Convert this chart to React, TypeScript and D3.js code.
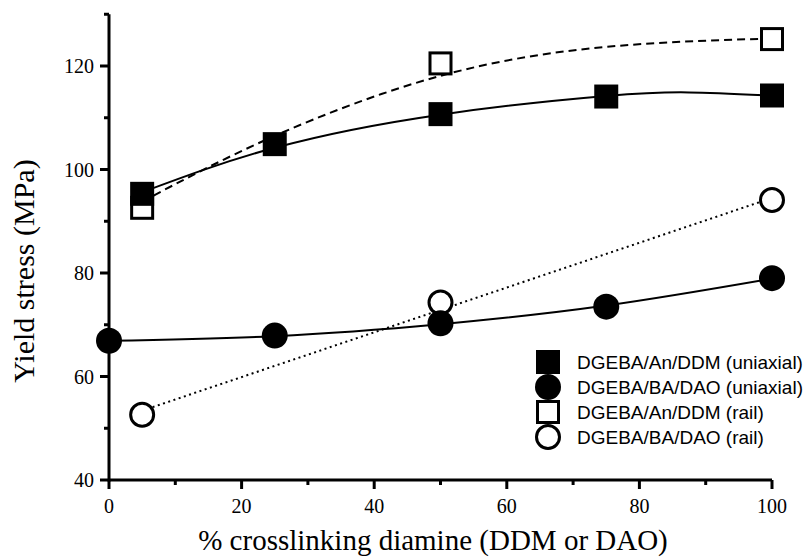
import React from "react";
import * as d3 from "d3";

// ---- data ----
const xTicksMajor = [0, 20, 40, 60, 80, 100];
const xTicksMinor = [10, 30, 50, 70, 90];
const yTicksMajor = [40, 60, 80, 100, 120];
const yTicksMinor = [50, 70, 90, 110, 130];

// DGEBA/An/DDM (uniaxial) - filled squares
const anUniX = [5, 25, 50, 75, 100];
const anUniY = [95.3, 104.9, 110.7, 114.1, 114.3];
const anUniFitX = [5, 25, 50, 75, 87.5, 100];
const anUniFitY = [95.6, 104.2, 110.6, 114.2, 114.9, 114.3];

// DGEBA/BA/DAO (uniaxial) - filled circles
const baUniX = [0, 25, 50, 75, 100];
const baUniY = [66.9, 67.9, 70.3, 73.5, 79.0];
const baUniFitX = [0, 25, 50, 75, 100];
const baUniFitY = [66.9, 67.8, 70.1, 73.7, 78.9];

// DGEBA/An/DDM (rail) - open squares
const anRailX = [5, 50, 100];
const anRailY = [92.6, 120.5, 125.2];
const anRailFitX = [5, 25, 50, 75, 100];
const anRailFitY = [93.8, 106.5, 118.1, 123.7, 125.3];

// DGEBA/BA/DAO (rail) - open circles
const baRailX = [5, 50, 100];
const baRailY = [52.6, 74.3, 94.1];
const baRailFitX = [5, 100];
const baRailFitY = [53.4, 94.5];

const legendLabels = [
  "DGEBA/An/DDM (uniaxial)",
  "DGEBA/BA/DAO (uniaxial)",
  "DGEBA/An/DDM (rail)",
  "DGEBA/BA/DAO (rail)",
];

const W = 807;
const H = 558;
const x = d3.scaleLinear().domain([0, 100]).range([109, 772]);
const y = d3.scaleLinear().domain([40, 130]).range([480, 14.25]);

const serif = "'Liberation Serif', 'Times New Roman', serif";
const sans = "'Liberation Sans', Arial, sans-serif";

function curvePath(xs: number[], ys: number[], curve: d3.CurveFactory) {
  const pts = xs.map((v, i) => [v, ys[i]] as [number, number]);
  return d3
    .line<[number, number]>()
    .x((d) => x(d[0]))
    .y((d) => y(d[1]))
    .curve(curve)(pts) as string;
}

type Kind = "fsq" | "fci" | "osq" | "oci";

function Marker({ kind, cx, cy }: { kind: Kind; cx: number; cy: number }) {
  if (kind === "fsq") return <rect x={cx - 12} y={cy - 12} width={24} height={24} fill="#000" />;
  if (kind === "fci") return <circle cx={cx} cy={cy} r={13} fill="#000" />;
  if (kind === "osq")
    return <rect x={cx - 10.5} y={cy - 10.5} width={21} height={21} fill="#fff" stroke="#000" strokeWidth={3} />;
  return <circle cx={cx} cy={cy} r={11.5} fill="#fff" stroke="#000" strokeWidth={3} />;
}

export default function App() {
  const lw = 2;
  return (
    <svg width={W} height={H} style={{ position: "absolute", left: 0, top: 0, background: "#fff" }}>
      <rect width={W} height={H} fill="#fff" />
      {/* fit curves */}
      <path d={curvePath(anUniFitX, anUniFitY, d3.curveNatural)} fill="none" stroke="#000" strokeWidth={lw} />
      <path d={curvePath(baUniFitX, baUniFitY, d3.curveNatural)} fill="none" stroke="#000" strokeWidth={lw} />
      <path d={curvePath(anRailFitX, anRailFitY, d3.curveNatural)} fill="none" stroke="#000" strokeWidth={lw} strokeDasharray="8,5" />
      <path d={curvePath(baRailFitX, baRailFitY, d3.curveLinear)} fill="none" stroke="#000" strokeWidth={lw} strokeDasharray="2,3.5" />

      {/* markers */}
      {anRailX.map((v, i) => <Marker key={"os" + i} kind="osq" cx={x(v)} cy={y(anRailY[i])} />)}
      {baRailX.map((v, i) => <Marker key={"oc" + i} kind="oci" cx={x(v)} cy={y(baRailY[i])} />)}
      {anUniX.map((v, i) => <Marker key={"fs" + i} kind="fsq" cx={x(v)} cy={y(anUniY[i])} />)}
      {baUniX.map((v, i) => <Marker key={"fc" + i} kind="fci" cx={x(v)} cy={y(baUniY[i])} />)}

      {/* axes */}
      <line x1={x(0)} x2={x(100)} y1={y(40)} y2={y(40)} stroke="#000" strokeWidth={3} />
      <line x1={x(0)} x2={x(0)} y1={y(40) + 1.5} y2={y(130)} stroke="#000" strokeWidth={3} />
      {xTicksMajor.map((t) => (
        <g key={"xt" + t}>
          <line x1={x(t)} x2={x(t)} y1={y(40)} y2={y(40) + 9} stroke="#000" strokeWidth={3} />
          <text x={x(t)} y={513} textAnchor="middle" fontFamily={serif} fontSize={20}>{t}</text>
        </g>
      ))}
      {xTicksMinor.map((t) => (
        <line key={"xm" + t} x1={x(t)} x2={x(t)} y1={y(40)} y2={y(40) + 5} stroke="#000" strokeWidth={3} />
      ))}
      {yTicksMajor.map((t) => (
        <g key={"yt" + t}>
          <line x1={x(0) - 9} x2={x(0)} y1={y(t)} y2={y(t)} stroke="#000" strokeWidth={3} />
          <text x={94} y={y(t)} dy="0.35em" textAnchor="end" fontFamily={serif} fontSize={20}>{t}</text>
        </g>
      ))}
      {yTicksMinor.map((t) => (
        <line key={"ym" + t} x1={x(0) - 5} x2={x(0)} y1={y(t)} y2={y(t)} stroke="#000" strokeWidth={3} />
      ))}

      {/* titles */}
      <text x={433} y={550} textAnchor="middle" fontFamily={serif} fontSize={29}>
        % crosslinking diamine (DDM or DAO)
      </text>
      <text transform="translate(34,271) rotate(-90)" textAnchor="middle" fontFamily={serif} fontSize={30}>
        Yield stress (MPa)
      </text>

      {/* legend */}
      {legendLabels.map((lab, i) => {
        const cy = 362 + i * 25;
        const kinds: Kind[] = ["fsq", "fci", "osq", "oci"];
        return (
          <g key={"lg" + i}>
            <Marker kind={kinds[i]} cx={548} cy={cy} />
            <text x={577} y={cy} dy="0.35em" fontFamily={sans} fontSize={19}>{lab}</text>
          </g>
        );
      })}
    </svg>
  );
}
